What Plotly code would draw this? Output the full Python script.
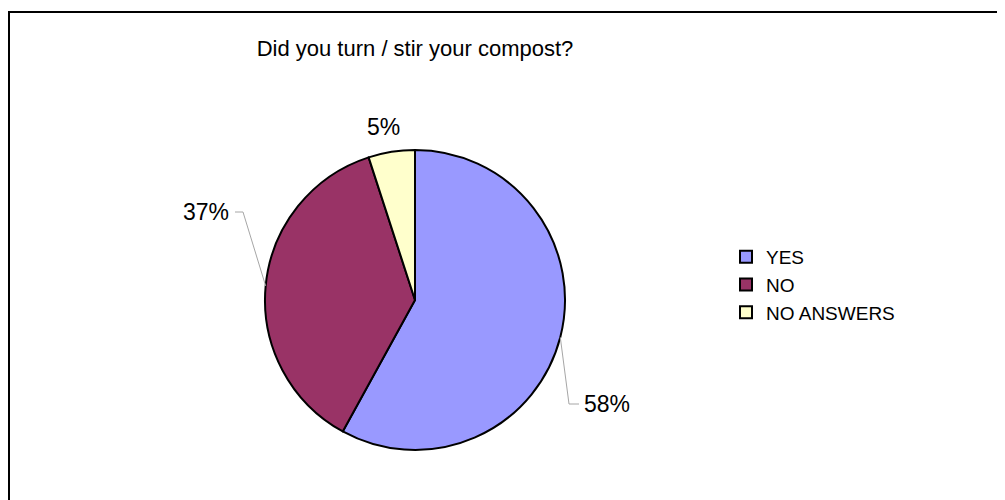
import math
import plotly.graph_objects as go

labels = ["YES", "NO", "NO ANSWERS"]
values = [58, 37, 5]
colors = ["#9999FF", "#993366", "#FFFFCC"]

W, H = 1005, 500
OFF = 8  # margen del body del html
# pie placement in window pixels
cx, cy, R = 415, 300, 150


def px(x):
    return (x - OFF) / W


def py(y):
    return 1 - (y - OFF) / H


fig = go.Figure()
fig.add_pie(labels=labels, values=values, sort=False, direction="clockwise", rotation=0,
            marker=dict(colors=colors, line=dict(color="black", width=2)),
            textinfo="none", hoverinfo="label+percent",
            domain=dict(x=[px(cx - R), px(cx + R)], y=[py(cy + R), py(cy - R)]))

# etiquetas de porcentaje fuera de la torta, con lineas guia estilo Excel
total = sum(values)
pct = [round(v / total * 100) for v in values]
# (x texto, y texto, ancla, codo x) en pixeles
lab_pos = [(582, 404, "left", 569), (231, 212, "right", 243), (383, 127, "center", None)]
shapes = []
annotations = []
cum = 0
for v, p, (tx, ty, anc, kx) in zip(values, pct, lab_pos):
    th = (cum + v / 2) / total * 2 * math.pi
    cum += v
    ex, ey = cx + R * math.sin(th), cy - R * math.cos(th)
    annotations.append(dict(x=px(tx), y=py(ty), xref="paper", yref="paper", text=f"{p}%",
                            showarrow=False, xanchor=anc, yanchor="middle",
                            font=dict(size=23, color="black")))
    if kx is not None:
        hx = tx - 3 if anc == "left" else tx + 4
        shapes.append(dict(type="path", xref="paper", yref="paper",
                           path=f"M {px(ex)} {py(ey)} L {px(kx)} {py(ty)} L {px(hx)} {py(ty)}",
                           line=dict(color="#A6A6A6", width=1)))

# marco del grafico
shapes.append(dict(type="rect", xref="paper", yref="paper", x0=px(9), y0=-0.05, x1=1.05, y1=py(12),
                   line=dict(color="black", width=2), fillcolor="rgba(0,0,0,0)"))

fig.update_layout(
    title=dict(text="Did you turn / stir your compost?", x=px(cx), xanchor="center",
               y=py(48), yanchor="middle", font=dict(size=22, color="black")),
    width=W, height=H, margin=dict(l=0, r=0, t=0, b=0),
    paper_bgcolor="white", plot_bgcolor="white",
    font=dict(family="Liberation Sans, Arial, sans-serif", color="black"),
    legend=dict(x=px(726), y=py(285), xanchor="left", yanchor="middle",
                font=dict(size=19, color="black"), itemwidth=30, traceorder="normal"),
    shapes=shapes, annotations=annotations,
)
fig.write_html("out.html")
